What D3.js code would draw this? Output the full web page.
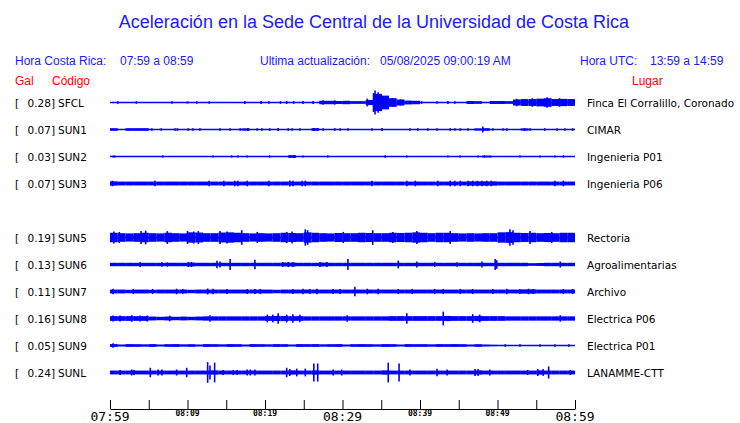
<!DOCTYPE html>
<html>
<head>
<meta charset="utf-8">
<script src="https://cdn.jsdelivr.net/npm/d3@7"></script>
<style>
  body { margin: 0; background: #fff; }
  text { font-family: "DejaVu Sans", sans-serif; }
</style>
</head>
<body>
<script>
/* stations, top to bottom (slot 4 = SUN4 is not shown) */
const codes  = ['SFCL','SUN1','SUN2','SUN3','SUN5','SUN6','SUN7','SUN8','SUN9','SUNL'];
const slots  = [0, 1, 2, 3, 5, 6, 7, 8, 9, 10];
const peaks  = [0.28, 0.07, 0.03, 0.07, 0.19, 0.13, 0.11, 0.16, 0.05, 0.24];
const places = ['Finca El Corralillo, Coronado','CIMAR','Ingenieria P01','Ingenieria P06',
                'Rectoria','Agroalimentarias','Archivo','Electrica P06','Electrica P01','LANAMME-CTT'];

/* envelope (gal) for each minute 07:59 -> 08:59 */
const envSFCL = [0.01,0.01,0.01,0.01,0.01,0.01,0.01,0.01,0.01,0.01,0.01,0.01,0.01,0.01,0.01,0.01,0.01,0.01,0.01,0.01,
                 0.01,0.01,0.01,0.01,0.01,0.01,0.01,0.04,0.04,0.035,0.04,0.03,0.03,0.06,0.2,0.16,0.1,0.07,0.045,0.04,
                 0.012,0.01,0.01,0.01,0.01,0.01,0.035,0.03,0.01,0.035,0.035,0.03,0.07,0.08,0.08,0.09,0.1,0.08,0.085,0.08];
const envSUN1 = [0.03,0.01,0.03,0.03,0.03,0.007,0.007,0.007,0.007,0.007,0.007,0.007,0.007,0.007,0.007,0.007,0.007,0.025,0.007,0.007,
                 0.007,0.007,0.007,0.007,0.007,0.007,0.03,0.007,0.007,0.007,0.007,0.007,0.007,0.007,0.007,0.007,0.007,0.007,0.007,0.007,
                 0.007,0.007,0.007,0.007,0.007,0.007,0.007,0.025,0.03,0.007,0.007,0.007,0.007,0.025,0.007,0.007,0.007,0.007,0.007,0.007];
const envSUN2 = [0.005,0.005,0.005,0.005,0.005,0.005,0.005,0.005,0.005,0.005,0.005,0.005,0.005,0.005,0.005,0.005,0.005,0.005,0.005,0.005,
                 0.005,0.005,0.005,0.03,0.005,0.005,0.005,0.005,0.005,0.005,0.005,0.005,0.005,0.005,0.005,0.005,0.005,0.005,0.005,0.005,
                 0.005,0.005,0.005,0.005,0.005,0.005,0.005,0.005,0.02,0.005,0.005,0.005,0.005,0.005,0.005,0.005,0.005,0.005,0.005,0.005];
const envSUN3 = [0.05,0.045,0.045,0.045,0.045,0.045,0.045,0.045,0.045,0.045,0.045,0.045,0.045,0.045,0.045,0.045,0.045,0.045,0.045,0.045,
                 0.045,0.045,0.045,0.045,0.045,0.045,0.045,0.045,0.045,0.045,0.045,0.045,0.045,0.045,0.045,0.045,0.045,0.045,0.045,0.045,
                 0.045,0.045,0.045,0.045,0.045,0.045,0.05,0.05,0.05,0.05,0.045,0.045,0.045,0.045,0.045,0.045,0.045,0.045,0.045,0.045];
const envSUN5 = [0.11,0.1,0.095,0.1,0.11,0.1,0.095,0.11,0.1,0.095,0.12,0.115,0.1,0.1,0.115,0.12,0.11,0.1,0.095,0.1,
                 0.095,0.1,0.11,0.105,0.1,0.12,0.11,0.1,0.095,0.105,0.1,0.1,0.11,0.105,0.1,0.1,0.11,0.105,0.11,0.12,
                 0.11,0.1,0.11,0.11,0.1,0.095,0.1,0.095,0.1,0.1,0.12,0.125,0.11,0.105,0.11,0.1,0.105,0.1,0.11,0.11];
const envSUN6 = [0.04,0.04,0.04,0.04,0.04,0.04,0.04,0.04,0.04,0.04,0.045,0.04,0.04,0.04,0.04,0.04,0.04,0.04,0.04,0.04,
                 0.04,0.04,0.045,0.045,0.04,0.04,0.04,0.045,0.04,0.04,0.04,0.04,0.04,0.04,0.04,0.04,0.04,0.04,0.04,0.04,
                 0.04,0.04,0.04,0.04,0.04,0.04,0.04,0.04,0.04,0.04,0.04,0.04,0.04,0.04,0.03,0.035,0.04,0.04,0.04,0.04];
const envSUN7 = [0.045,0.045,0.04,0.045,0.045,0.04,0.045,0.045,0.045,0.045,0.04,0.045,0.045,0.045,0.045,0.045,0.045,0.045,0.045,0.045,
                 0.045,0.04,0.045,0.045,0.045,0.045,0.045,0.045,0.045,0.045,0.045,0.045,0.045,0.045,0.045,0.045,0.045,0.045,0.045,0.045,
                 0.045,0.045,0.045,0.045,0.045,0.045,0.045,0.045,0.045,0.045,0.045,0.045,0.045,0.05,0.05,0.045,0.045,0.045,0.045,0.045];
const envSUN8 = [0.055,0.055,0.055,0.055,0.055,0.045,0.04,0.045,0.04,0.045,0.04,0.045,0.05,0.05,0.05,0.05,0.05,0.05,0.05,0.05,
                 0.055,0.06,0.06,0.055,0.055,0.05,0.05,0.05,0.05,0.05,0.05,0.05,0.05,0.05,0.05,0.05,0.055,0.055,0.055,0.055,
                 0.055,0.055,0.055,0.06,0.055,0.055,0.055,0.06,0.055,0.055,0.055,0.05,0.05,0.05,0.05,0.05,0.05,0.05,0.05,0.05];
const envSUN9 = [0.032,0.02,0.032,0.03,0.025,0.032,0.02,0.03,0.032,0.025,0.03,0.02,0.032,0.03,0.025,0.032,0.03,0.02,0.032,0.03,
                 0.025,0.032,0.03,0.02,0.032,0.03,0.032,0.025,0.03,0.032,0.02,0.03,0.032,0.03,0.025,0.032,0.03,0.02,0.032,0.03,
                 0.03,0.025,0.032,0.03,0.032,0.03,0.02,0.03,0.02,0.015,0.008,0.008,0.008,0.008,0.008,0.008,0.008,0.008,0.008,0.008];
const envSUNL = [0.045,0.045,0.045,0.045,0.045,0.045,0.045,0.045,0.045,0.045,0.045,0.045,0.045,0.05,0.045,0.045,0.045,0.045,0.045,0.045,
                 0.045,0.045,0.045,0.05,0.045,0.045,0.05,0.045,0.045,0.045,0.045,0.045,0.045,0.045,0.045,0.05,0.045,0.045,0.045,0.045,
                 0.045,0.045,0.045,0.045,0.045,0.045,0.045,0.05,0.045,0.045,0.045,0.045,0.045,0.045,0.045,0.05,0.045,0.045,0.045,0.045];

/* spikes [minute, gal] */
const spkSFCL = [[1.0,0.03],[3.4,0.03],[8.0,0.03],[10.0,0.025],[11.2,0.03],[12.8,0.03],[17.4,0.035],[19.5,0.035],[20.5,0.03],
                 [22.0,0.03],[22.8,0.035],[23.7,0.03],[24.9,0.035],[26.2,0.035],[27.5,0.05],[29.0,0.05],[33.2,0.09],[34.0,0.22],
                 [34.2,0.28],[34.6,0.24],[35.0,0.2],[35.6,0.14],[36.5,0.1],[37.5,0.07],[40.2,0.03],[42.2,0.03],[43.6,0.035],
                 [44.5,0.03],[52.5,0.09],[54.5,0.1],[56.4,0.12],[58.0,0.1]];
const spkSUN1 = [[5.4,0.03],[6.6,0.03],[8.4,0.03],[8.7,0.03],[10.1,0.03],[10.7,0.03],[11.6,0.03],[14.2,0.03],[15.5,0.03],[16.8,0.03],
                 [17.8,0.035],[19.0,0.03],[19.6,0.03],[20.6,0.03],[21.7,0.035],[23.0,0.03],[23.5,0.03],[24.5,0.03],[26.3,0.035],
                 [26.8,0.03],[27.5,0.03],[29.0,0.03],[29.7,0.03],[30.7,0.03],[33.8,0.03],[35.1,0.035],[38.7,0.03],[39.7,0.03],
                 [41.0,0.03],[42.2,0.03],[43.9,0.03],[44.5,0.03],[45.2,0.03],[46.2,0.03],[48.1,0.07],[49.4,0.03],[50.7,0.03],
                 [51.2,0.03],[53.5,0.03],[54.2,0.03],[56.1,0.03],[57.7,0.03],[58.7,0.03],[59.7,0.03]];
const spkSUN2 = [[0.4,0.025],[0.6,0.025],[6.8,0.025],[13.3,0.025],[15.7,0.025],[16.5,0.025],[17.7,0.025],[20.6,0.025],[23.2,0.03],
                 [23.8,0.03],[24.9,0.025],[28.1,0.025],[35.5,0.03],[38.3,0.025],[43.6,0.025],[45.2,0.025],[47.5,0.025],
                 [48.3,0.025],[49.1,0.025],[52.9,0.025],[55.5,0.025],[57.4,0.025],[58.5,0.025]];
const spkSUN3 = [[0.3,0.065],[5.8,0.065],[12.8,0.065],[14.7,0.065],[16.1,0.065],[16.5,0.065],[17.7,0.065],[20.5,0.065],[23.2,0.07],
                 [23.6,0.065],[24.8,0.065],[25.2,0.065],[33.8,0.065],[38.3,0.065],[39.4,0.065],[42.3,0.065],[43.9,0.065],
                 [44.5,0.065],[45.2,0.065],[46.2,0.065],[46.8,0.065],[47.4,0.065],[48.0,0.065],[48.6,0.065],[49.2,0.065],
                 [57.4,0.065],[58.5,0.065]];
const spkSUN5 = [[0.5,0.14],[1.2,0.13],[4.0,0.15],[4.6,0.16],[7.4,0.15],[10.0,0.15],[10.8,0.14],[11.4,0.15],[14.2,0.15],[15.1,0.14],
                 [17.0,0.17],[19.0,0.13],[22.8,0.13],[23.5,0.14],[25.2,0.19],[25.5,0.17],[30.1,0.13],[33.9,0.17],[36.5,0.13],
                 [39.6,0.15],[43.9,0.15],[51.6,0.19],[52.0,0.17],[54.2,0.15],[57.0,0.13]];
const spkSUN6 = [[3.9,0.06],[6.7,0.05],[7.4,0.05],[10.1,0.06],[10.5,0.06],[13.8,0.09],[14.2,0.07],[15.5,0.13],[18.7,0.11],[22.3,0.06],
                 [23.0,0.06],[23.6,0.06],[27.1,0.06],[28.0,0.06],[30.7,0.13],[37.2,0.09],[39.6,0.07],[41.9,0.06],[44.8,0.05],
                 [48.0,0.07],[49.7,0.13],[49.9,0.1],[58.1,0.07]];
const spkSUN7 = [[0.4,0.065],[3.0,0.06],[5.5,0.06],[8.6,0.065],[9.4,0.06],[12.6,0.07],[13.3,0.065],[15.1,0.06],[17.7,0.06],[18.7,0.06],
                 [19.4,0.06],[23.6,0.06],[24.9,0.065],[25.8,0.06],[26.7,0.065],[28.8,0.06],[29.7,0.06],[31.6,0.11],[33.2,0.065],
                 [34.6,0.065],[37.2,0.06],[39.0,0.06],[41.9,0.06],[43.0,0.06],[45.2,0.06],[46.8,0.06],[49.4,0.06],[51.2,0.065],
                 [52.9,0.06],[54.0,0.065],[54.6,0.06],[58.5,0.06],[59.7,0.06]];
const spkSUN8 = [[0.4,0.07],[1.3,0.07],[2.8,0.075],[3.9,0.07],[4.8,0.07],[7.7,0.065],[12.9,0.075],[20.3,0.09],[21.0,0.09],[21.7,0.12],
                 [22.8,0.09],[23.6,0.1],[24.5,0.09],[30.6,0.075],[38.3,0.12],[43.0,0.16],[46.8,0.1],[47.7,0.09],[58.1,0.075]];
const spkSUN9 = [[0.4,0.05],[51.0,0.03],[52.9,0.03],[55.5,0.03],[57.4,0.03],[59.2,0.03]];
const spkSUNL = [[1.3,0.06],[2.8,0.07],[3.1,0.06],[5.2,0.11],[6.2,0.07],[6.7,0.07],[8.6,0.07],[9.9,0.11],[12.6,0.24],[12.9,0.16],
                 [13.5,0.23],[14.6,0.06],[15.9,0.06],[16.4,0.06],[17.7,0.07],[18.1,0.07],[18.7,0.07],[22.8,0.11],[23.2,0.08],
                 [24.1,0.09],[25.2,0.09],[26.3,0.21],[26.8,0.21],[28.8,0.07],[29.9,0.07],[35.9,0.23],[37.3,0.21],[38.7,0.07],
                 [42.2,0.09],[43.5,0.07],[47.1,0.08],[47.5,0.08],[49.0,0.07],[53.9,0.06],[55.2,0.08],[55.9,0.08],[56.6,0.14],
                 [59.4,0.06]];

const envs   = [envSFCL, envSUN1, envSUN2, envSUN3, envSUN5, envSUN6, envSUN7, envSUN8, envSUN9, envSUNL];
const spikes = [spkSFCL, spkSUN1, spkSUN2, spkSUN3, spkSUN5, spkSUN6, spkSUN7, spkSUN8, spkSUN9, spkSUNL];

/* axis: minutes after 07:59 */
const tickMinutes = d3.range(0, 61, 5);
const bigLabels   = [0, 30, 60];
const smallLabels = [10, 20, 40, 50];

const width = 740, height = 423;
const blue = '#0000ff', red = '#ff0000';

const svg = d3.select('body').append('svg')
  .attr('width', width).attr('height', height);

/* header */
svg.append('text').attr('x', 374).attr('y', 28).attr('text-anchor', 'middle')
  .style('font-family', '"Liberation Sans", Arial, sans-serif').attr('font-size', 18).attr('fill', '#1a1aff')
  .text('Aceleración en la Sede Central de la Universidad de Costa Rica');

const hdr = [[15, 'Hora Costa Rica:'], [120, '07:59 a 08:59'], [260, 'Ultima actualización:'],
             [380, '05/08/2025 09:00:19 AM'], [580, 'Hora UTC:'], [650, '13:59 a 14:59']];
svg.append('g').selectAll('text').data(hdr).enter().append('text')
  .attr('x', d => d[0]).attr('y', 65)
  .style('font-family', '"Liberation Sans", Arial, sans-serif').attr('font-size', 12).attr('fill', '#1a1aff')
  .text(d => d[1]);

const sub = [[15, 'Gal'], [52, 'Código'], [632, 'Lugar']];
svg.append('g').selectAll('text').data(sub).enter().append('text')
  .attr('x', d => d[0]).attr('y', 85)
  .style('font-family', '"Liberation Sans", Arial, sans-serif').attr('font-size', 12).attr('fill', red)
  .text(d => d[1]);

/* scales */
const xScale = d3.scaleLinear().domain([0, 60]).range([110, 575]);
const yScale = d3.scaleLinear().domain([0, 10]).range([102.5, 372.5]);
const aScale = d3.scaleLinear().domain([0, 0.3]).range([0, 12.9]);

/* traces */
codes.forEach((code, i) => {
  const yc = yScale(slots[i]);
  const g = svg.append('g');

  g.append('line').attr('x1', xScale(0)).attr('x2', xScale(60))
    .attr('y1', yc).attr('y2', yc).attr('stroke', blue).attr('stroke-width', 1.6);

  g.selectAll('rect').data(envs[i]).enter().append('rect')
    .attr('x', (d, m) => xScale(m)).attr('width', (d, m) => xScale(m + 1) - xScale(m))
    .attr('y', d => yc - aScale(d)).attr('height', d => 2 * aScale(d))
    .attr('fill', blue);

  g.selectAll('line.spk').data(spikes[i]).enter().append('line').attr('class', 'spk')
    .attr('x1', d => xScale(d[0])).attr('x2', d => xScale(d[0]))
    .attr('y1', d => yc - aScale(d[1])).attr('y2', d => yc + aScale(d[1]))
    .attr('stroke', blue).attr('stroke-width', 1.6);

  /* labels */
  g.append('text').attr('x', 15).attr('y', yc + 4).attr('font-size', 10.5).text('[');
  g.append('text').attr('x', 55).attr('y', yc + 4).attr('font-size', 10.5).attr('text-anchor', 'end')
    .text(peaks[i].toFixed(2) + ']');
  g.append('text').attr('x', 58).attr('y', yc + 4).attr('font-size', 10.5).text(code);
  g.append('text').attr('x', 587).attr('y', yc + 4).attr('font-size', 10.5).text(places[i]);
});

/* time axis */
const fmt = m => {
  const t = 7 * 60 + 59 + m;
  return String(Math.floor(t / 60)).padStart(2, '0') + ':' + String(t % 60).padStart(2, '0');
};
const axis = svg.append('g').attr('transform', 'translate(0,409)')
  .call(d3.axisBottom(xScale).tickValues(tickMinutes).tickSizeInner(-9).tickSizeOuter(0).tickFormat(''));
axis.select('.domain').attr('stroke', '#000');
axis.selectAll('.tick line').attr('stroke', '#000');

svg.append('g').selectAll('text').data(bigLabels).enter().append('text')
  .attr('x', d => xScale(d)).attr('y', 421).attr('text-anchor', 'middle')
  .style('font-family', '"DejaVu Sans Mono", monospace').attr('font-size', 13)
  .text(d => fmt(d));

svg.append('g').selectAll('text').data(smallLabels).enter().append('text')
  .attr('x', d => xScale(d)).attr('y', 416).attr('text-anchor', 'middle')
  .style('font-family', '"DejaVu Sans Mono", monospace').attr('font-size', 8).attr('font-weight', 'bold')
  .text(d => fmt(d));
</script>
</body>
</html>
